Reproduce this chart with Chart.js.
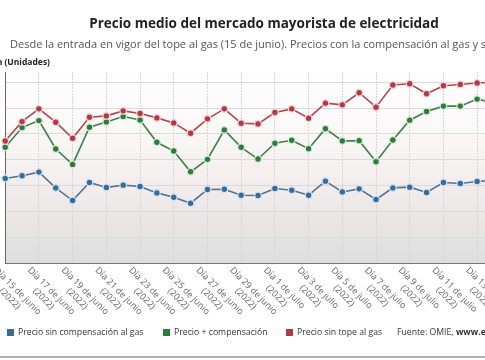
<!DOCTYPE html>
<html><head><meta charset="utf-8">
<script src="https://cdn.jsdelivr.net/npm/chart.js@4/dist/chart.umd.min.js"></script>
<style>
html,body{margin:0;padding:0;width:485px;height:360px;overflow:hidden;background:#fff;font-family:"Open Sans",sans-serif;}
#wrap{position:absolute;left:0;top:0;width:520px;height:360px;}
.t{position:absolute;white-space:nowrap;line-height:1;}
.lg{position:absolute;top:328px;font-size:8.7px;color:#333;white-space:nowrap;line-height:1;}
.sq{display:inline-block;width:7px;height:7px;margin-right:4px;vertical-align:-0.5px;}
#rule{position:absolute;left:0;top:356px;width:485px;height:2px;background:#b0b0b0;}
</style></head><body>
<div id="wrap"><canvas id="c" width="520" height="360"></canvas></div>
<div class="t" style="left:0;width:528px;top:17px;text-align:center;font-weight:700;font-size:13.5px;color:#222;">Precio medio del mercado mayorista de electricidad</div>
<div class="t" style="left:10px;top:38px;font-size:11px;color:#555;">Desde la entrada en vigor del tope al gas (15 de junio). Precios con la compensación al gas y sin ella</div>
<div class="t" style="left:-120px;width:170px;top:58px;text-align:right;font-size:8.5px;font-weight:700;color:#222;">Evolución (Unidades)</div>
<div class="lg" style="left:7px;"><span class="sq" style="background:#3b6a97"></span>Precio sin compensación al gas</div>
<div class="lg" style="left:163px;"><span class="sq" style="background:#2e7b3d"></span>Precio + compensación</div>
<div class="lg" style="left:286px;"><span class="sq" style="background:#b23a44"></span>Precio sin tope al gas</div>
<div class="lg" style="left:397px;">Fuente: OMIE, <b>www.epdata.es</b></div>
<div id="rule"></div>
<script>
const dayLabels = [
  'Día 15 de junio','Día 16 de junio','Día 17 de junio','Día 18 de junio','Día 19 de junio','Día 20 de junio',
  'Día 21 de junio','Día 22 de junio','Día 23 de junio','Día 24 de junio','Día 25 de junio','Día 26 de junio',
  'Día 27 de junio','Día 28 de junio','Día 29 de junio','Día 30 de junio','Día 1 de julio','Día 2 de julio',
  'Día 3 de julio','Día 4 de julio','Día 5 de julio','Día 6 de julio','Día 7 de julio','Día 8 de julio',
  'Día 9 de julio','Día 10 de julio','Día 11 de julio','Día 12 de julio','Día 13 de julio','Día 14 de julio'
];
const yearLabel = '(2022)';
const precioSinCompensacion = [163.8,168.9,176.1,145.5,121.0,156.0,146.3,150.8,148.2,135.8,127.4,115.8,142.4,143.0,131.1,130.7,144.4,141.0,131.3,158.6,137.7,143.6,123.0,145.5,146.9,136.6,156.0,154.1,158.0,160.5];
const precioMasCompensacion = [224.1,262.3,275.9,220.8,191.0,263.0,273.3,283.7,277.2,233.8,216.9,176.7,200.8,257.8,224.1,201.4,231.9,237.7,221.4,260.3,236.4,237.0,196.1,238.3,276.7,293.4,303.9,303.9,317.5,310.3];
const precioSinTope = [236.4,273.9,298.6,272.8,241.6,282.5,285.0,294.7,289.5,281.1,271.4,251.4,279.2,298.6,270.8,269.5,291.4,298.6,280.5,309.7,306.4,329.8,301.9,344.7,347.3,327.8,343.4,345.9,348.6,350.0];
const yMin = 0, yMax = 370, yStep = 50;

const bgPlugin = {
  id: 'bg',
  beforeDraw(chart) {
    const {ctx, chartArea: a} = chart;
    const g = ctx.createLinearGradient(0, a.top, 0, a.bottom);
    g.addColorStop(0, '#ffffff');
    g.addColorStop(0.3, '#fbf8f8');
    g.addColorStop(0.6, '#f3ecec');
    g.addColorStop(1, '#dedede');
    ctx.save();
    ctx.fillStyle = g;
    ctx.fillRect(a.left, a.top, a.right - a.left, a.bottom - a.top);
    ctx.restore();
  }
};
const xLabelPlugin = {
  id: 'xlabels',
  afterDraw(chart) {
    const {ctx, chartArea: a} = chart;
    const x = chart.scales.x;
    ctx.save();
    ctx.font = '9px "Open Sans"';
    ctx.fillStyle = '#666';
    ctx.textBaseline = 'alphabetic';
    dayLabels.forEach((lab, i) => {
      if (i % 2) return;
      const px = x.getPixelForValue(i);
      ctx.save();
      ctx.translate(px - 6, a.bottom + 2);
      ctx.rotate(Math.PI / 4);
      const w1 = ctx.measureText(lab).width;
      ctx.textAlign = 'left';
      ctx.fillText(lab, 0, 8);
      ctx.textAlign = 'center';
      ctx.fillText(yearLabel, w1 / 2, 19);
      ctx.restore();
    });
    ctx.restore();
  }
};

const ds = (label, data, line, pt, halo) => ({
  label, data, borderColor: line, backgroundColor: pt, borderWidth: 1.6,
  pointBackgroundColor: pt, pointBorderColor: halo, pointBorderWidth: 1.2,
  pointRadius: 3.3, tension: 0, fill: false
});

new Chart(document.getElementById('c'), {
  type: 'line',
  data: {
    labels: dayLabels,
    datasets: [
      ds('Precio sin tope al gas', precioSinTope, '#b5464f', '#b23a44', '#f2d4d6'),
      ds('Precio + compensación', precioMasCompensacion, '#3f7f4a', '#2e7b3d', '#d4ead6'),
      ds('Precio sin compensación al gas', precioSinCompensacion, '#56718d', '#3b6a97', '#c9e4f6')
    ]
  },
  options: {
    responsive: false,
    devicePixelRatio: 1,
    animation: false,
    layout: {padding: {left: 1, right: 26, top: 72, bottom: 97}},
    plugins: {legend: {display: false}, tooltip: {enabled: false}},
    scales: {
      x: {
        offset: false,
        ticks: {display: false},
        grid: {drawTicks: false, color: c => (c.index % 2 === 0 ? '#d6d6d6' : 'rgba(0,0,0,0)'), lineWidth: 1},
        border: {display: true, color: '#777', width: 1, dash: [2, 1]}
      },
      y: {
        min: yMin, max: yMax,
        ticks: {display: false, stepSize: yStep, includeBounds: false},
        grid: {drawTicks: false, color: c => (c.tick && c.tick.value > 0 && c.tick.value % yStep === 0 ? '#dadada' : 'rgba(0,0,0,0)'), lineWidth: 1},
        border: {display: true, color: '#666', width: 1}
      }
    }
  },
  plugins: [bgPlugin, xLabelPlugin]
});
</script>
</body></html>
